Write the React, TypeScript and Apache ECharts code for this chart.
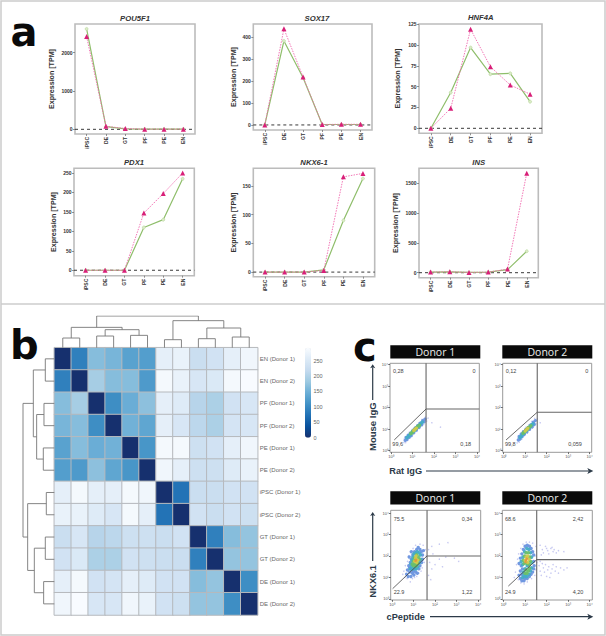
import React, { useEffect, useRef } from "react";
import * as echarts from "echarts";

const stages = ["iPSC", "DE", "GT", "PF", "PE", "EN"];
const pou5f1Pink = [2420, 80, 20, 5, 5, 5];
const pou5f1Green = [2620, 70, 10, 5, 5, 5];
const sox17Pink = [0, 437, 218, 2, 3, 3];
const sox17Green = [0, 382, 215, 2, 2, 2];
const hnf4aPink = [0, 24, 119, 74, 52, 41];
const hnf4aGreen = [0, 43, 97, 65, 66, 32];
const pdx1Pink = [0, 0, 0, 147, 197, 250];
const pdx1Green = [0, 0, 0, 110, 130, 235];
const nkx61Pink = [0, 0, 0, 3, 166, 172];
const nkx61Green = [0, 0, 0, 4, 90, 163];
const insPink = [10, 15, 5, 10, 60, 1670];
const insGreen = [10, 15, 5, 10, 50, 360];

const heatLabels = [
  "EN (Donor 1)", "EN (Donor 2)", "PF (Donor 1)", "PF (Donor 2)", "PE (Donor 1)", "PE (Donor 2)",
  "iPSC (Donor 1)", "iPSC (Donor 2)", "GT (Donor 1)", "GT (Donor 2)", "DE (Donor 1)", "DE (Donor 2)",
];
const distanceMatrix = [
  [0, 90, 165, 155, 130, 125, 265, 270, 225, 235, 265, 280],
  [90, 0, 190, 165, 165, 120, 285, 270, 245, 250, 285, 290],
  [165, 190, 0, 105, 145, 170, 265, 255, 205, 195, 235, 245],
  [155, 165, 105, 0, 150, 135, 265, 245, 210, 195, 240, 245],
  [130, 165, 145, 150, 0, 115, 285, 285, 230, 235, 265, 280],
  [125, 120, 170, 135, 115, 0, 280, 265, 230, 230, 255, 270],
  [265, 285, 265, 265, 285, 280, 0, 75, 225, 225, 235, 235],
  [270, 270, 255, 245, 285, 265, 75, 0, 235, 225, 235, 230],
  [225, 245, 205, 210, 230, 230, 225, 235, 0, 90, 165, 175],
  [235, 250, 195, 195, 235, 230, 225, 225, 90, 0, 175, 175],
  [265, 285, 235, 240, 265, 255, 235, 235, 165, 175, 0, 105],
  [280, 290, 245, 245, 280, 270, 235, 230, 175, 175, 105, 0],
];
const heatTicks = [0, 50, 100, 150, 200, 250];
const heatColors = ["#16306e", "#08519c", "#2171b5", "#4292c6", "#6baed6", "#9ecae1", "#c6dbef", "#deebf7", "#f9fcff"];

// dendrogram merges: [posA, heightA, posB, heightB, height]
const topMerges = [
  [0.5, 0, 1.5, 0, 29], [2.5, 0, 3.5, 0, 35], [4.5, 0, 5.5, 0, 37], [6.5, 0, 7.5, 0, 24],
  [8.5, 0, 9.5, 0, 27], [10.5, 0, 11.5, 0, 32], [3, 35, 5, 37, 54], [1, 29, 4, 54, 61],
  [9, 27, 11, 32, 59], [7, 24, 10, 59, 81], [2.5, 61, 8.5, 81, 95],
];
const leftMerges = [
  [0.5, 0, 1.5, 0, 27], [2.5, 0, 3.5, 0, 31], [4.5, 0, 5.5, 0, 33], [6.5, 0, 7.5, 0, 24],
  [8.5, 0, 9.5, 0, 27], [10.5, 0, 11.5, 0, 32], [3, 31, 5, 33, 53], [1, 27, 4, 53, 63],
  [9, 27, 11, 32, 60], [7, 24, 10, 60, 80], [2.5, 63, 8.5, 80, 94],
];

const decadeTicks = [0, 1, 2, 3, 4];
const decadeLabels = ["10⁰", "10¹", "10²", "10³", "10⁴"];

// flow cytometry events in decades, by density band
const igg1Outer = [[.6,.38],[.62,.55],[.68,.38],[.72,.66],[.78,.5],[.85,.86],[.9,.62],[1,1],[1.05,.76],[1.12,1.12],[1.2,.9],[1.28,1.28],[1.36,1.08],[1.44,1.46],[1.52,1.22],[1.6,1.56],[1.66,1.38],[1.72,1.52],[1.9,1.3],[2.3,1.1]];
const igg1Blue = [[.66,.48],[.7,.62],[.74,.52],[.8,.72],[.84,.62],[.9,.8],[.94,.7],[1,.92],[1.06,.84],[1.12,1.04],[1.18,.96],[1.24,1.16],[1.3,1.08],[1.36,1.28],[1.42,1.2],[1.48,1.4],[1.54,1.34],[1.58,1.46]];
const igg1Cyan = [[.74,.6],[.8,.66],[.86,.72],[.92,.78],[.98,.86],[1.04,.9],[1.1,.98],[1.16,1.03],[1.22,1.1],[1.28,1.15],[1.34,1.2],[1.4,1.28],[1.46,1.33]];
const igg1Green = [[.92,.8],[.98,.84],[1.04,.92],[1.1,.97],[1.16,1.04],[1.2,1.08],[1.26,1.14],[1.32,1.18]];
const igg1Yellow = [[1.06,.94],[1.12,1],[1.18,1.05]];
const igg2Outer = [[.62,.36],[.66,.6],[.72,.4],[.76,.74],[.84,.54],[.88,.9],[.96,.7],[1.02,1.08],[1.1,.82],[1.16,1.2],[1.24,.98],[1.3,1.36],[1.38,1.12],[1.44,1.5],[1.5,1.25],[1.56,1.48],[1.7,1.3]];
const igg2Blue = [[.68,.5],[.72,.66],[.76,.54],[.82,.78],[.86,.66],[.92,.88],[.96,.76],[1.02,.98],[1.08,.88],[1.14,1.08],[1.2,1],[1.26,1.2],[1.32,1.1],[1.38,1.32],[1.42,1.22],[1.47,1.4]];
const igg2Cyan = [[.76,.62],[.82,.68],[.88,.76],[.94,.82],[1,.9],[1.06,.96],[1.12,1.02],[1.18,1.08],[1.24,1.13],[1.3,1.2],[1.36,1.25]];
const igg2Green = [[.9,.82],[.96,.86],[1.02,.94],[1.08,.98],[1.14,1.06],[1.2,1.1],[1.26,1.16]];
const igg2Yellow = [[1,.92],[1.06,.98],[1.12,1.04]];

const nkx1Outer = [[.6,1],[.55,1.3],[.62,1.55],[.7,.95],[.72,1.75],[.78,2],[.85,.8],[.85,2.2],[.95,.95],[.98,2.35],[1.1,2.5],[1.05,1],[1.15,1.05],[1.25,1.2],[1.3,2.55],[1.4,1.45],[1.45,2.5],[1.5,1.7],[1.55,2.3],[1.58,2],[1.35,1.3],[.5,1.15],[1.7,2.3],[1.85,2.45],[2.2,2.55],[2.6,2.62],[1.9,2.1],[1.75,1.7],[1.85,1.4],[2,1.6],[2.2,1.85],[2.35,1.5],[2.5,1.95],[2.9,1.9],[3.1,1.75],[1.7,1.1],[1.8,.9]];
const nkx1Blue = [[.68,1.15],[.72,1.35],[.75,1.05],[.78,1.55],[.82,1.25],[.85,1.7],[.88,1.05],[.9,1.85],[.95,1.2],[.97,2.05],[1.02,1.12],[1.05,2.2],[1.1,1.25],[1.15,2.3],[1.18,1.2],[1.22,2.4],[1.25,1.4],[1.3,2.3],[1.3,1.55],[1.36,2.2],[1.38,1.7],[1.42,2.05],[1.42,1.85],[.82,1.45],[.92,1.35],[1,1.3],[1.08,1.4],[.8,1.95],[.9,2.2],[1.46,2.25]];
const nkx1Cyan = [[.85,1.4],[.92,1.5],[.88,1.62],[.97,1.4],[1.05,1.45],[1.12,1.4],[1.2,1.5],[1.28,1.7],[.93,1.8],[.97,1.95],[1.02,2.1],[1.1,2.15],[1.18,2.2],[1.25,2.15],[1.32,2.05],[1.34,1.85]];
const nkx1Green = [[.95,1.62],[1,1.55],[1,1.75],[1.05,1.9],[1.07,1.6],[1.12,1.55],[1.15,2.05],[1.2,1.65],[1.22,1.95],[1.27,1.85]];
const nkx1Yellow = [[1.05,1.75],[1.1,1.9],[1.15,1.7],[1.2,1.8],[1.12,2]];
const nkx1Orange = [[1.12,1.82],[1.1,1.78]];

const nkx2Outer = [[.5,1],[.55,1.25],[.6,1.6],[.65,1.85],[.68,.9],[.7,2.1],[.8,2.35],[.8,.75],[.9,2.55],[.95,.7],[1.05,2.65],[1.1,.8],[1.2,2.65],[1.3,.95],[1.35,2.6],[1.45,1.1],[1.5,2.45],[1.5,1.35],[1.55,1.7],[1.5,2],[1.7,2.5],[1.8,2.3],[1.85,2.15],[1.95,2.45],[2.05,2.25],[2.1,2.1],[2.2,2.35],[2.3,2.2],[2.35,2.3],[2.45,2.15],[2.55,2.25],[1.75,2.05],[2,2.35],[2.8,2.2],[2.25,2.4],[1.65,1.55],[1.7,1.3],[1.75,1.1],[1.85,1.45],[1.9,1.25],[1.95,1.6],[2,1.05],[2.05,1.35],[2.1,1.5],[2.2,1.2],[2.25,1.4],[2.3,1.6],[2.4,1.3],[2.45,1.5],[2.55,1.2],[2.65,1.45],[2.8,1.35],[2.95,1.45],[2.15,1],[1.8,1.65],[1.7,1.75]];
const nkx2Blue = [[.72,1.1],[.78,.95],[.85,.85],[.78,1.3],[.85,1.15],[.92,1],[.95,.85],[1,.95],[1.1,.95],[1.2,1.05],[1.28,1.15],[1.35,1.25],[1.4,1.4],[.72,1.65],[.78,1.9],[.82,1.55],[.85,2.1],[.92,2.3],[1,2.45],[1.1,2.5],[1.2,2.45],[1.28,2.35],[1.35,2.2],[1.4,2.05],[1.4,1.75],[1.42,1.55],[.88,1.4]];
const nkx2Cyan = [[.88,1],[.95,1.1],[.92,1.25],[1.02,1.05],[1,1.4],[1.08,1.05],[1.18,1.15],[1.25,1.3],[1.3,1.45],[.82,1.75],[.88,1.6],[.9,1.95],[.98,2.2],[1.08,2.35],[1.18,2.3],[1.25,2.15],[1.3,1.95],[1.32,1.7],[1.1,1.55]];
const nkx2Green = [[1,1.2],[1.08,1.2],[1.15,1.3],[1.05,1.35],[1.2,1.42],[.95,1.65],[.92,1.8],[.98,2],[1.05,2.15],[1.15,2.15],[1.22,1.95],[1.25,1.75],[1.2,1.6],[1.08,1.65]];
const nkx2Yellow = [[1,1.8],[1.05,1.95],[1.12,2],[1.18,1.85],[1.12,1.7]];
const nkx2Orange = [[1.05,1.8],[1.08,1.88],[1.02,1.72]];

const bandStyles = [
  { color: "#c4c6f0", size: 1.5 },
  { color: "#6a93df", size: 3.4 },
  { color: "#45acc6", size: 3.6 },
  { color: "#6abf6a", size: 3.6 },
  { color: "#cfc94a", size: 3.4 },
  { color: "#e29a3c", size: 2.6 },
];

const sans = "Liberation Sans, Arial, sans-serif";

const linePanels = [
  { gene: "POU5F1", pink: pou5f1Pink, green: pou5f1Green, box: [75, 24, 120, 110], y: [-122, 2749], ticks: [0, 1000, 2000], nameGap: 20, titleX: 135, titleY: 14 },
  { gene: "SOX17", pink: sox17Pink, green: sox17Green, box: [253.3, 24, 118.7, 106], y: [-23, 459], ticks: [0, 100, 200, 300, 400], nameGap: 16, titleX: 317, titleY: 14 },
  { gene: "HNF4A", pink: hnf4aPink, green: hnf4aGreen, box: [419, 24, 123, 109.3], y: [-6, 125.3], ticks: [0, 25, 50, 75, 100, 125], nameGap: 17.5, titleX: 480.7, titleY: 13 },
  { gene: "PDX1", pink: pdx1Pink, green: pdx1Green, box: [74, 168.3, 120.3, 107.4], y: [-14, 262], ticks: [0, 50, 100, 150, 200, 250], nameGap: 16.5, titleX: 134, titleY: 158 },
  { gene: "NKX6-1", pink: nkx61Pink, green: nkx61Green, box: [253.3, 168.3, 121.4, 108.4], y: [-8, 180.9], ticks: [0, 50, 100, 150], nameGap: 16, titleX: 314, titleY: 158 },
  { gene: "INS", pink: insPink, green: insGreen, box: [419, 168.3, 119.3, 109.4], y: [-84, 1752], ticks: [0, 500, 1000, 1500], nameGap: 19.5, titleX: 478.7, titleY: 158 },
];

const flowPanels = [
  { box: [390, 363.3, 89.3, 89], x: [-0.047, 4.107], y: [-0.074, 4.065], bands: [igg1Outer, igg1Blue, igg1Cyan, igg1Green, igg1Yellow], vx: 1.63, hy: 1.94, diag: [[0.15, 0.5], [1.63, 1.94]] },
  { box: [502.7, 363.3, 89, 89], x: [-0.047, 4.093], y: [-0.074, 4.065], bands: [igg2Outer, igg2Blue, igg2Cyan, igg2Green, igg2Yellow], vx: 1.56, hy: 1.79, diag: [[0.11, 0.5], [1.56, 1.79]] },
  { box: [390.7, 510.3, 90, 89.7], x: [-0.06, 4.125], y: [-0.047, 4.126], bands: [nkx1Outer, nkx1Blue, nkx1Cyan, nkx1Green, nkx1Yellow, nkx1Orange], vx: 1.63, hy: 2.0, diag: [[0.03, 0.48], [1.63, 2.0]] },
  { box: [502.3, 510.3, 90, 89.7], x: [-0.06, 4.125], y: [-0.047, 4.126], bands: [nkx2Outer, nkx2Blue, nkx2Cyan, nkx2Green, nkx2Yellow, nkx2Orange], vx: 1.54, hy: 1.83, diag: [[0.22, 0.6], [1.54, 1.83]] },
];

const quadrantTexts = [
  ["0,28", 398.3, 370.7], ["0", 474, 370.7], ["99,6", 397.7, 444.3], ["0,18", 465.7, 444.3],
  ["0,12", 511, 370.7], ["0", 586.7, 370.7], ["99,8", 510.3, 444.3], ["0,059", 575, 444.3],
  ["75.5", 399, 518.7], ["0,34", 467, 518.7], ["22.9", 399, 591.7], ["1,22", 467, 591.7],
  ["68.6", 510.3, 518.7], ["2,42", 578, 518.7], ["24.9", 510.3, 591.7], ["4,20", 578, 591.7],
];
const donorHeaders = [
  ["Donor 1", 390.3, 345.3], ["Donor 2", 502.3, 345.3],
  ["Donor 1", 390.3, 491.3], ["Donor 2", 502.3, 491.3],
];

function mergePath(merges: number[][], horizontal: boolean) {
  const out: any[] = [];
  merges.forEach(([a, ha, b, hb, h]) => {
    const seg = [[a, ha], [a, h], [b, h], [b, hb]];
    seg.forEach(([p, v]) => out.push(horizontal ? [p, v] : [v, p]));
    out.push(["-", "-"]);
  });
  return out;
}

function buildOption() {
  const grid: any[] = [];
  const xAxis: any[] = [];
  const yAxis: any[] = [];
  const series: any[] = [];
  const title: any[] = [];

  linePanels.forEach((p) => {
    const idx = grid.length;
    grid.push({ left: p.box[0], top: p.box[1], width: p.box[2], height: p.box[3], show: true, borderColor: "#bcbcbc", borderWidth: 1.6, backgroundColor: "#fff" });
    xAxis.push({
      gridIndex: idx, type: "value", min: -0.6, max: 5.6, splitLine: { show: false },
      axisLine: { show: false, onZero: false },
      axisTick: { show: true, length: 2, customValues: [0, 1, 2, 3, 4, 5], lineStyle: { color: "#666", width: 0.7 } },
      axisLabel: { customValues: [0, 1, 2, 3, 4, 5], rotate: 90, fontSize: 5, fontWeight: "bold", color: "#333", fontFamily: sans, margin: 3, formatter: (v: number) => stages[v] },
    });
    yAxis.push({
      gridIndex: idx, type: "value", min: p.y[0], max: p.y[1], splitLine: { show: false },
      axisLine: { show: false, onZero: false },
      axisTick: { show: true, length: 2, customValues: p.ticks, lineStyle: { color: "#666", width: 0.7 } },
      axisLabel: { customValues: p.ticks, fontSize: 5, fontWeight: "bold", color: "#333", fontFamily: sans, margin: 2.5, formatter: (v: number) => String(v) },
      name: "Expression [TPM]", nameLocation: "middle", nameGap: p.nameGap,
      nameTextStyle: { fontSize: 7.1, fontWeight: "bold", color: "#333", fontFamily: sans },
    });
    title.push({ text: p.gene, left: p.titleX, top: p.titleY, textAlign: "center", padding: 0, textStyle: { fontSize: 7.7, fontWeight: "bold", fontStyle: "italic", color: "#333", fontFamily: sans } });
    series.push({
      type: "line", xAxisIndex: idx, yAxisIndex: idx, symbol: "none", silent: true, z: 2,
      data: [[-0.6, 0], [5.6, 0]], lineStyle: { color: "#222", width: 0.9, type: [3, 3] },
    });
    series.push({
      type: "line", xAxisIndex: idx, yAxisIndex: idx, symbol: "circle", symbolSize: 3, z: 3,
      data: p.green.map((v, i) => [i, v]),
      lineStyle: { color: "#8fbe6b", width: 1.2 }, itemStyle: { color: "#dcebc8", borderColor: "#b5d69a", borderWidth: 0.6 },
    });
    series.push({
      type: "line", xAxisIndex: idx, yAxisIndex: idx, symbol: "triangle", symbolSize: 5, z: 4,
      data: p.pink.map((v, i) => [i, v]),
      lineStyle: { color: "#f068ae", width: 0.9, type: [1.5, 1.2] }, itemStyle: { color: "#d81f78" },
    });
  });

  // heatmap
  const heatIdx = grid.length;
  grid.push({ left: 54.3, top: 347.7, width: 203.4, height: 267.3 });
  xAxis.push({ gridIndex: heatIdx, type: "category", data: heatLabels, axisLine: { show: false }, axisTick: { show: false }, axisLabel: { show: false }, splitLine: { show: false } });
  yAxis.push({
    gridIndex: heatIdx, type: "category", data: heatLabels, inverse: true, position: "right",
    axisLine: { show: false }, axisTick: { show: false }, splitLine: { show: false },
    axisLabel: { fontSize: 6, color: "#666", fontFamily: sans, margin: 2, interval: 0 },
  });
  const heatData: number[][] = [];
  distanceMatrix.forEach((row, r) => row.forEach((v, c) => heatData.push([c, r, v])));
  const heatSeriesIndex = series.length;
  series.push({ type: "heatmap", xAxisIndex: heatIdx, yAxisIndex: heatIdx, data: heatData, itemStyle: { borderColor: "#b6b9bd", borderWidth: 1 }, emphasis: { disabled: true } });

  // top dendrogram
  const topIdx = grid.length;
  grid.push({ left: 54.3, top: 316, width: 203.4, height: 31.7 });
  xAxis.push({ gridIndex: topIdx, type: "value", min: 0, max: 12, show: false });
  yAxis.push({ gridIndex: topIdx, type: "value", min: 0, max: 95, show: false });
  series.push({ type: "line", xAxisIndex: topIdx, yAxisIndex: topIdx, symbol: "none", connectNulls: false, data: mergePath(topMerges, true), lineStyle: { color: "#777", width: 0.9 } });

  // left dendrogram
  const leftIdx = grid.length;
  grid.push({ left: 23, top: 347.7, width: 31.3, height: 267.3 });
  xAxis.push({ gridIndex: leftIdx, type: "value", min: 0, max: 94, inverse: true, show: false });
  yAxis.push({ gridIndex: leftIdx, type: "value", min: 0, max: 12, inverse: true, show: false });
  series.push({ type: "line", xAxisIndex: leftIdx, yAxisIndex: leftIdx, symbol: "none", connectNulls: false, data: mergePath(leftMerges, false), lineStyle: { color: "#777", width: 0.9 } });

  // colour bar labels
  const barIdx = grid.length;
  grid.push({ left: 305, top: 347.7, width: 6, height: 90 });
  xAxis.push({ gridIndex: barIdx, type: "value", min: 0, max: 1, show: false });
  yAxis.push({
    gridIndex: barIdx, type: "value", min: 0, max: 292, position: "right", splitLine: { show: false },
    axisLine: { show: false }, axisTick: { show: false },
    axisLabel: { customValues: heatTicks, fontSize: 5.5, color: "#666", fontFamily: sans, margin: 2.5 },
  });

  // flow plots
  flowPanels.forEach((p) => {
    const idx = grid.length;
    grid.push({ left: p.box[0], top: p.box[1], width: p.box[2], height: p.box[3], show: true, borderColor: "#999", borderWidth: 1, backgroundColor: "#fff" });
    const axisBits = {
      type: "value", splitLine: { show: false }, axisLine: { show: false, onZero: false },
      axisTick: { show: true, length: 1.8, customValues: decadeTicks, lineStyle: { color: "#333", width: 0.7 } },
      axisLabel: { customValues: decadeTicks, fontSize: 4, color: "#555", fontFamily: sans, margin: 2, formatter: (v: number) => decadeLabels[v] },
    };
    xAxis.push({ gridIndex: idx, min: p.x[0], max: p.x[1], ...axisBits });
    yAxis.push({ gridIndex: idx, min: p.y[0], max: p.y[1], ...axisBits });
    p.bands.forEach((band, b) => {
      series.push({
        type: "scatter", xAxisIndex: idx, yAxisIndex: idx, data: band, symbolSize: bandStyles[b].size, z: 3 + b,
        itemStyle: { color: bandStyles[b].color, opacity: 0.95 }, silent: true,
      });
    });
    const gate = { type: "line", xAxisIndex: idx, yAxisIndex: idx, symbol: "none", z: 10, silent: true, lineStyle: { color: "#666", width: 1.1 } };
    series.push({ ...gate, data: [[p.vx, p.y[0]], [p.vx, p.y[1]]] });
    series.push({ ...gate, data: [[p.vx, p.hy], [p.x[1], p.hy]] });
    series.push({ ...gate, data: p.diag, lineStyle: { color: "#444", width: 0.8 } });
  });

  const ink = "#2c3a48";
  const graphic: any[] = [
    { type: "rect", shape: { x: 1, y: 1, width: 604, height: 634 }, style: { fill: "none", stroke: "#cccccc", lineWidth: 1.5 }, silent: true },
    { type: "line", shape: { x1: 1, y1: 304, x2: 605, y2: 304 }, style: { stroke: "#cccccc", lineWidth: 1.5 }, silent: true },
    { type: "text", x: 10.5, y: 12, style: { text: "a", fontSize: 40, fontWeight: "bold", fontFamily: "DejaVu Sans", fill: "#0a0a0a" } },
    { type: "text", x: 10, y: 325, style: { text: "b", fontSize: 40, fontWeight: "bold", fontFamily: "DejaVu Sans", fill: "#0a0a0a" } },
    { type: "text", x: 353, y: 327, style: { text: "c", fontSize: 40, fontWeight: "bold", fontFamily: "DejaVu Sans", fill: "#0a0a0a" } },
  ];
  donorHeaders.forEach(([t, x, y]) => {
    graphic.push({ type: "rect", shape: { x: x as number, y: y as number, width: 90, height: 13.2 }, style: { fill: "#0a0a0a" }, silent: true });
    graphic.push({ type: "text", x: (x as number) + 45, y: (y as number) + 6.8, style: { text: t, fontSize: 10.5, fontFamily: "Open Sans", fontWeight: 500, fill: "#eee", align: "center", verticalAlign: "middle" } });
  });
  quadrantTexts.forEach(([t, x, y]) => {
    graphic.push({ type: "text", x: x as number, y: y as number, z: 20, style: { text: t, fontSize: 5.5, fontFamily: sans, fill: "#444", align: "center", verticalAlign: "middle" } });
  });
  const arrowTitles: [string, number, number, number, number][] = [
    ["Mouse IgG", 372.7, 426.7, 90, 9.5],
    ["NKX6.1", 372.7, 581.3, 90, 9.2],
    ["Rat IgG", 405.7, 471, 0, 9.2],
    ["cPeptide", 405.7, 616.7, 0, 9.2],
  ];
  arrowTitles.forEach(([t, x, y, deg, fs]) => {
    graphic.push({ type: "text", x, y, rotation: (deg * Math.PI) / 180, style: { text: t, fontSize: fs, fontWeight: "bold", fontFamily: sans, fill: ink, align: "center", verticalAlign: "middle" } });
  });
  const vArrows = [[372.7, 400, 364.3], [372.7, 561, 512]];
  vArrows.forEach(([x, y1, y2]) => {
    graphic.push({ type: "line", shape: { x1: x, y1, x2: x, y2: y2 + 3 }, style: { stroke: ink, lineWidth: 1.2 }, silent: true });
    graphic.push({ type: "polygon", shape: { points: [[x, y2], [x - 2.6, y2 + 4], [x, y2 + 3], [x + 2.6, y2 + 4]] }, style: { fill: ink }, silent: true });
  });
  const hArrows = [[426, 593.3, 471], [430, 593.3, 616.7]];
  hArrows.forEach(([x1, x2, y]) => {
    graphic.push({ type: "line", shape: { x1, y1: y, x2: x2 - 3, y2: y }, style: { stroke: ink, lineWidth: 1.2 }, silent: true });
    graphic.push({ type: "polygon", shape: { points: [[x2, y], [x2 - 6, y - 3], [x2 - 4.5, y], [x2 - 6, y + 3]] }, style: { fill: ink }, silent: true });
  });

  return {
    animation: false,
    backgroundColor: "#fff",
    title, grid, xAxis, yAxis, series, graphic,
    visualMap: {
      type: "continuous", seriesIndex: heatSeriesIndex, dimension: 2, min: 0, max: 292,
      left: 305, top: 347.7, itemWidth: 6, itemHeight: 90, padding: 0, calculable: false,
      realtime: false, text: undefined, showLabel: false, inRange: { color: heatColors },
      textStyle: { fontSize: 1, color: "rgba(0,0,0,0)" }, hoverLink: false,
    },
  };
}

export default function App() {
  const ref = useRef<HTMLDivElement>(null);
  useEffect(() => {
    document.body.style.margin = "0";
    const chart = echarts.init(ref.current!, undefined, { renderer: "svg" });
    chart.setOption(buildOption() as any);
    return () => chart.dispose();
  }, []);
  return <div ref={ref} style={{ width: 606, height: 636 }} />;
}
